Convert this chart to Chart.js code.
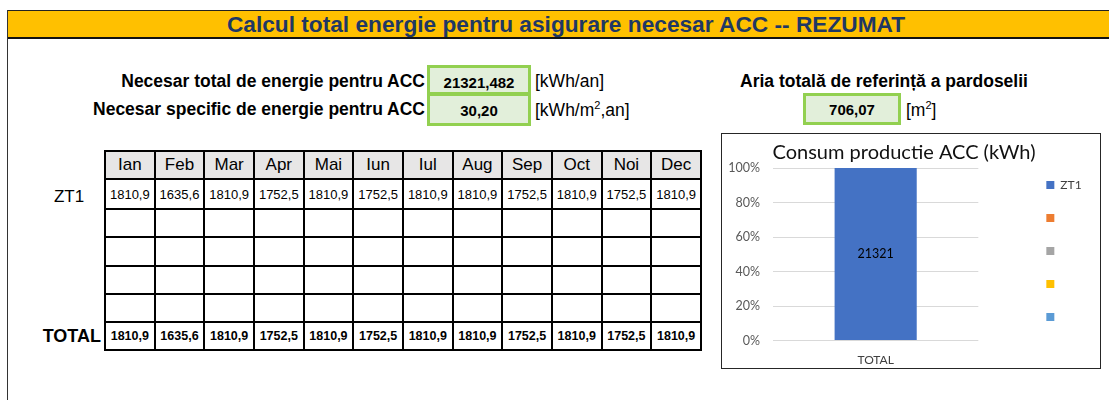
<!DOCTYPE html>
<html lang="ro">
<head>
<meta charset="utf-8">
<title>Calcul total energie ACC - rezumat</title>
<script src="https://cdn.jsdelivr.net/npm/chart.js@4.4.1/dist/chart.umd.min.js"></script>
<script>
// valori citite din foaia de calcul
const months = ["Ian", "Feb", "Mar", "Apr", "Mai", "Iun", "Iul", "Aug", "Sep", "Oct", "Noi", "Dec"];
const zt1Monthly = [1810.9, 1635.6, 1810.9, 1752.5, 1810.9, 1752.5, 1810.9, 1810.9, 1752.5, 1810.9, 1752.5, 1810.9];
const totalMonthly = [1810.9, 1635.6, 1810.9, 1752.5, 1810.9, 1752.5, 1810.9, 1810.9, 1752.5, 1810.9, 1752.5, 1810.9];
const necesarTotal = 21321.482;   // kWh/an
const necesarSpecific = 30.20;    // kWh/m2,an
const ariaReferinta = 706.07;     // m2

// grafic: o singura coloana 100% stivuita
const categories = ["TOTAL"];
const seriesNames = ["ZT1", "", "", "", ""];
const seriesTotals = [21321.482, null, null, null, null];
const yTickValues = [0, 20, 40, 60, 80, 100];

const seriesColors = ["#4472C4", "#ED7D31", "#A5A5A5", "#FFC000", "#5B9BD5"];
</script>
<style>
  body {
    margin: 0;
    width: 1109px;
    height: 400px;
    overflow: hidden;
    background: #fff;
    position: relative;
    font-family: "Liberation Sans", Arial, sans-serif;
    color: #000;
  }
  .abs { position: absolute; white-space: nowrap; line-height: 1; }
  .pageLeft { position: absolute; left: 7px; top: 10px; width: 1px; height: 390px; background: #333; }
  .band {
    position: absolute; left: 7px; top: 10px; width: 1110px; height: 26px;
    background: #FFC000; border-top: 1px solid #222; border-bottom: 2px solid #111;
  }
  .bandTitle { font-weight: bold; font-size: 22.7px; color: #1F3864; }
  .lbl { font-weight: bold; font-size: 17.5px; }
  .unit { font-size: 17.5px; }
  .unit sup { font-size: 11px; vertical-align: 7px; line-height: 0; }
  .box {
    position: absolute; box-sizing: border-box;
    border: 3px solid #92D050; background: #E2EFDA;
  }
  .val { font-weight: bold; font-size: 15px; }
  table.luni {
    position: absolute; left: 104px; top: 150px;
    border-collapse: collapse; table-layout: fixed; width: 598px;
  }
  table.luni td {
    border: 2px solid #000; padding: 0; text-align: center;
    font-size: 13px; overflow: hidden;
  }
  table.luni tr.hdr td { background: #E7E6E6; font-size: 17px; }
  table.luni tr.tot td { font-weight: bold; font-size: 12.5px; }
  .chartBox {
    position: absolute; left: 721px; top: 133px; width: 380px; height: 236px;
    box-sizing: border-box; border: 1px solid #262626; background: #fff;
  }
  .chartBox canvas { display: block; }
</style>
</head>
<body>
<div class="band"></div>
<div class="pageLeft"></div>
<div class="abs bandTitle" style="left:566px; top:24px; transform:translate(-50%,-50%);">Calcul total energie pentru asigurare necesar ACC -- REZUMAT</div>

<div class="abs lbl" style="right:684px; top:82px; transform:translateY(-50%);">Necesar total de energie pentru ACC</div>
<div class="abs lbl" style="right:684px; top:110px; transform:translateY(-50%);">Necesar specific de energie pentru ACC</div>

<div class="box" style="left:427px; top:65px; width:104px; height:30px;"></div>
<div class="box" style="left:427px; top:93px; width:104px; height:33px;"></div>
<div class="abs val" id="vTotal" style="left:479px; top:82px; transform:translate(-50%,-50%);"></div>
<div class="abs val" id="vSpec" style="left:479px; top:110px; transform:translate(-50%,-50%);"></div>
<div class="abs unit" style="left:535px; top:82px; transform:translateY(-50%);">[kWh/an]</div>
<div class="abs unit" style="left:535px; top:111px; transform:translateY(-50%);">[kWh/m<sup>2</sup>,an]</div>

<div class="abs lbl" style="left:884px; top:82px; transform:translate(-50%,-50%);">Aria totală de referință a pardoselii</div>
<div class="box" style="left:803px; top:93px; width:98px; height:32px;"></div>
<div class="abs val" id="vArie" style="left:852px; top:109px; transform:translate(-50%,-50%);"></div>
<div class="abs unit" style="left:906px; top:111px; transform:translateY(-50%);">[m<sup>2</sup>]</div>

<div class="abs" style="left:69px; top:196px; font-size:17px; transform:translate(-50%,-50%);">ZT1</div>
<div class="abs" style="right:1008px; top:336px; font-size:18px; font-weight:bold; transform:translateY(-50%);">TOTAL</div>
<table class="luni" id="luni"></table>

<div class="chartBox"><canvas id="chartAcc" width="378" height="234"></canvas></div>

<script>
const fmt = (v, d) => v.toFixed(d).replace(".", ",");

document.getElementById("vTotal").textContent = fmt(necesarTotal, 3);
document.getElementById("vSpec").textContent = fmt(necesarSpecific, 2);
document.getElementById("vArie").textContent = fmt(ariaReferinta, 2);

// tabel lunar
const rowHeights = [28, 30, 28, 29, 28, 28, 28];
const rows = [
  { cls: "hdr", cells: months },
  { cls: "", cells: zt1Monthly.map(v => fmt(v, 1)) },
  { cls: "", cells: months.map(() => "") },
  { cls: "", cells: months.map(() => "") },
  { cls: "", cells: months.map(() => "") },
  { cls: "", cells: months.map(() => "") },
  { cls: "tot", cells: totalMonthly.map(v => fmt(v, 1)) },
];
const table = document.getElementById("luni");
rows.forEach((r, i) => {
  const tr = document.createElement("tr");
  if (r.cls) tr.className = r.cls;
  tr.style.height = rowHeights[i] + "px";
  r.cells.forEach(c => {
    const td = document.createElement("td");
    td.textContent = c;
    tr.appendChild(td);
  });
  table.appendChild(tr);
});

// procente pentru coloana 100% stivuita
const seriesSum = seriesTotals.reduce((a, v) => a + (v || 0), 0);

const barLabels = {
  id: "barLabels",
  afterDatasetsDraw(chart) {
    const ctx = chart.ctx;
    chart.data.datasets.forEach((ds, i) => {
      const raw = seriesTotals[i];
      if (raw == null) return;
      chart.getDatasetMeta(i).data.forEach(bar => {
        const { x, y, base } = bar.getProps(["x", "y", "base"], true);
        ctx.save();
        ctx.font = "12.5px Lato";
        ctx.fillStyle = "#000";
        ctx.textAlign = "center";
        ctx.textBaseline = "middle";
        ctx.fillText(String(Math.round(raw)), x, (y + base) / 2);
        ctx.restore();
      });
    });
  }
};

const drawChart = () => {
  const data = {
    labels: categories,
    datasets: seriesNames.map((name, i) => ({
      label: name,
      data: [seriesTotals[i] == null ? null : seriesTotals[i] / seriesSum * 100],
      backgroundColor: seriesColors[i],
      borderWidth: 0,
      categoryPercentage: 1,
      barPercentage: 0.4,
    })),
  };

  const configChart = {
    type: "bar",
    data: data,
    plugins: [barLabels],
    options: {
      responsive: false,
      animation: false,
      layout: { padding: { left: 0, right: 14, top: 0, bottom: 0 } },
      plugins: {
        title: {
          display: true,
          text: "Consum productie ACC (kWh)",
          color: "#111",
          font: { family: "Lato", size: 20, weight: "normal" },
          padding: { top: 7, bottom: 3 },
        },
        legend: {
          position: "right",
          labels: {
            boxWidth: 8,
            boxHeight: 8,
            padding: 21,
            color: "#404040",
            font: { family: "Lato", size: 12 },
          },
        },
        tooltip: { enabled: false },
      },
      scales: {
        x: {
          stacked: true,
          grid: { display: false, tickLength: 11 },
          border: { display: false },
          ticks: { color: "#404040", padding: 1, font: { family: "Lato", size: 12 } },
        },
        y: {
          stacked: true,
          min: yTickValues[0],
          max: yTickValues[yTickValues.length - 1],
          afterBuildTicks: s => { s.ticks = yTickValues.map(v => ({ value: v })); },
          afterFit: s => { s.width = 51; },
          grid: { color: "#D9D9D9", drawTicks: false },
          border: { display: false },
          ticks: {
            padding: 13,
            color: "#595959",
            font: { family: "Lato", size: 12.5 },
            callback: v => v + "%",
          },
        },
        spacer: {
          type: "linear",
          position: "right",
          display: true,
          grid: { display: false, drawTicks: false },
          border: { display: false },
          ticks: { display: false },
          afterFit: s => { s.width = 47; },
        },
      },
    },
  };

  new Chart(document.getElementById("chartAcc"), configChart);
};

document.fonts.load("12px Lato").then(drawChart, drawChart);
</script>
</body>
</html>
